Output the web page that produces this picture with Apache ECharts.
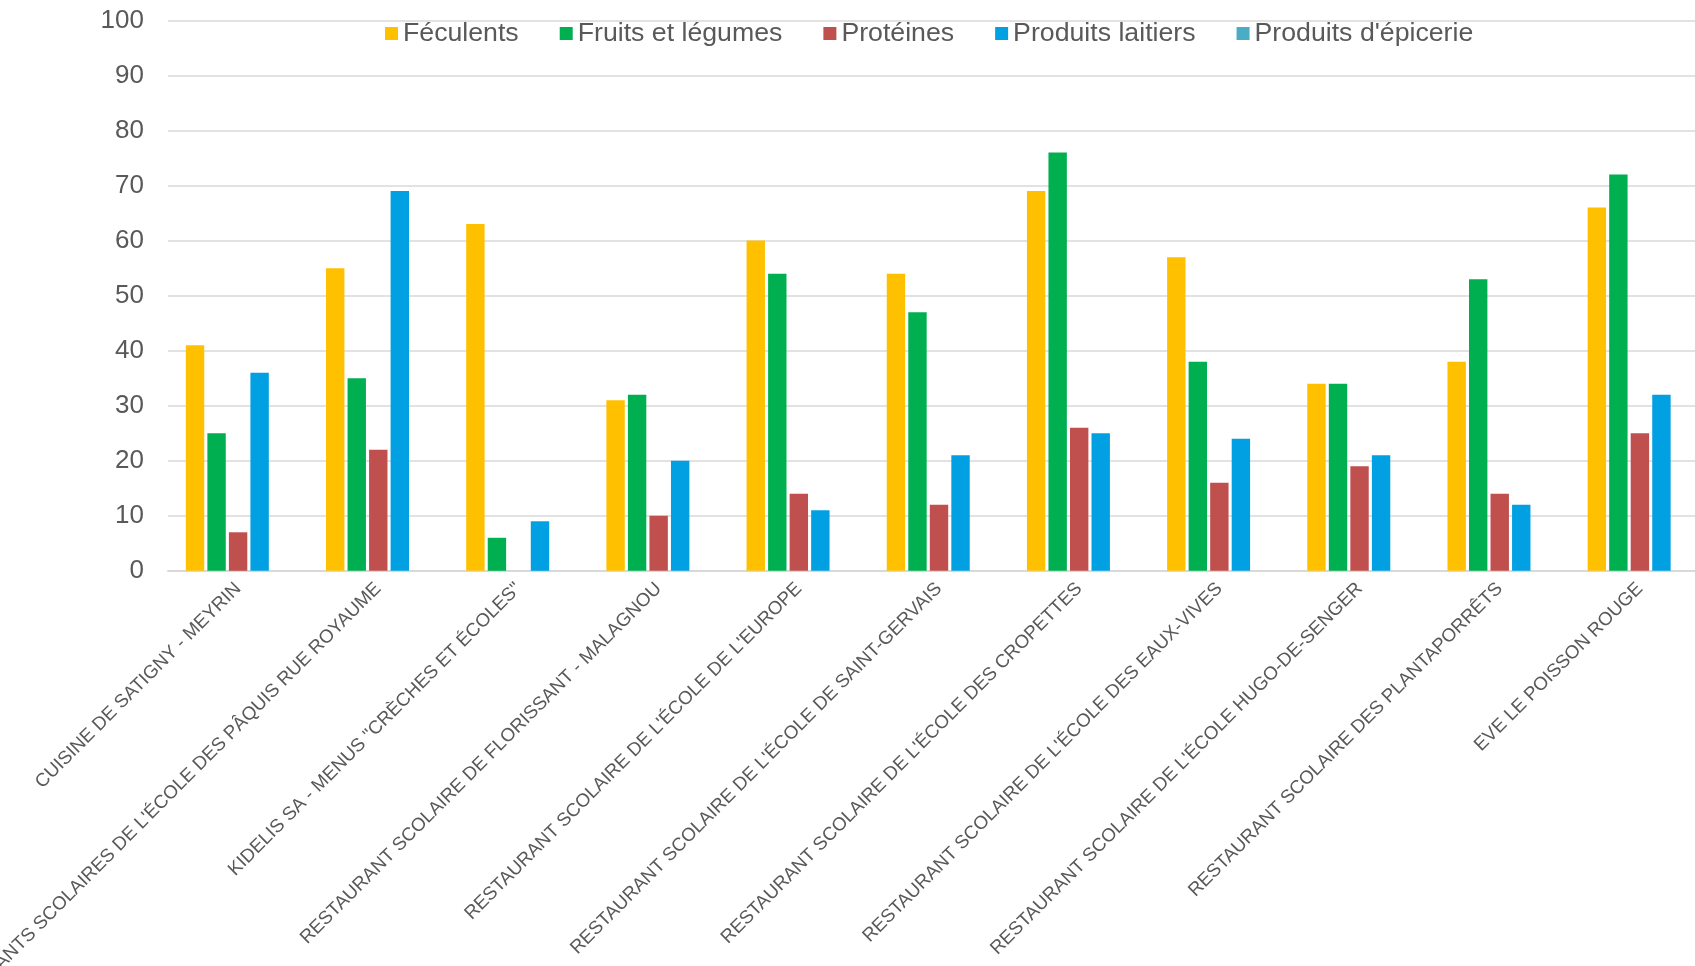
<!DOCTYPE html>
<html>
<head>
<meta charset="utf-8">
<script src="https://cdn.jsdelivr.net/npm/echarts@6/dist/echarts.min.js"></script>
<style>html,body{margin:0;padding:0;background:#fff;}#c{width:1695px;height:966px;}</style>
</head>
<body>
<div id="c"></div>
<script>
const categories = [
  "CUISINE DE SATIGNY - MEYRIN",
  "RESTAURANTS SCOLAIRES DE L'ÉCOLE DES PÂQUIS RUE ROYAUME",
  "KIDELIS SA - MENUS \"CRÈCHES ET ÉCOLES\"",
  "RESTAURANT SCOLAIRE DE FLORISSANT - MALAGNOU",
  "RESTAURANT SCOLAIRE DE L'ÉCOLE DE L'EUROPE",
  "RESTAURANT SCOLAIRE DE L'ÉCOLE DE SAINT-GERVAIS",
  "RESTAURANT SCOLAIRE DE L'ÉCOLE DES CROPETTES",
  "RESTAURANT SCOLAIRE DE L'ÉCOLE DES EAUX-VIVES",
  "RESTAURANT SCOLAIRE DE L'ÉCOLE HUGO-DE-SENGER",
  "RESTAURANT SCOLAIRE DES PLANTAPORRÊTS",
  "EVE LE POISSON ROUGE"
];
const seriesNames = ["Féculents", "Fruits et légumes", "Protéines", "Produits laitiers", "Produits d'épicerie"];
const feculents      = [41, 55, 63, 31, 60, 54, 69, 57, 34, 38, 66];
const fruitsLegumes  = [25, 35, 6, 32, 54, 47, 76, 38, 34, 53, 72];
const proteines      = [7, 22, 0, 10, 14, 12, 26, 16, 19, 14, 25];
const produitsLaitiers = [36, 69, 9, 20, 11, 21, 25, 24, 21, 12, 32];
const produitsEpicerie = [0, 0, 0, 0, 0, 0, 0, 0, 0, 0, 0];
const yTicks = [0, 10, 20, 30, 40, 50, 60, 70, 80, 90, 100];

const colors = ["#FFC000", "#00B050", "#C0504D", "#00A0E2", "#4BACC6"];
const values = [feculents, fruitsLegumes, proteines, produitsLaitiers, produitsEpicerie];
const font = "'Liberation Sans', Arial, sans-serif";

const chart = echarts.init(document.getElementById('c'));
chart.setOption({
  animation: false,
  color: colors,
  textStyle: { fontFamily: font },
  legend: {
    left: 380, top: 15,
    itemWidth: 13, itemHeight: 13, itemGap: 41,
    icon: 'rect',
    textStyle: { fontSize: 26.7, color: '#595959', fontFamily: font },
    data: seriesNames
  },
  grid: { left: 168, right: -15, top: 20.5, bottom: 395.2, containLabel: false, outerBoundsMode: 'none' },
  xAxis: {
    type: 'category',
    data: categories,
    axisTick: { show: false },
    axisLine: { lineStyle: { color: '#D9D9D9', width: 2 } },
    axisLabel: { interval: 0, rotate: 45, fontSize: 18.7, color: '#595959', margin: 15, fontFamily: font }
  },
  yAxis: {
    type: 'value',
    min: yTicks[0], max: yTicks[yTicks.length - 1], interval: 10,
    axisLine: { show: false },
    axisTick: { show: false },
    splitLine: { lineStyle: { color: '#D9D9D9', width: 1.5 } },
    axisLabel: { fontSize: 26, color: '#595959', margin: 24, fontFamily: font }
  },
  series: seriesNames.map((n, i) => ({
    name: n,
    type: 'bar',
    data: values[i],
    barWidth: 18.4,
    barGap: '17%',
    itemStyle: { color: colors[i] }
  }))
});
</script>
</body>
</html>
